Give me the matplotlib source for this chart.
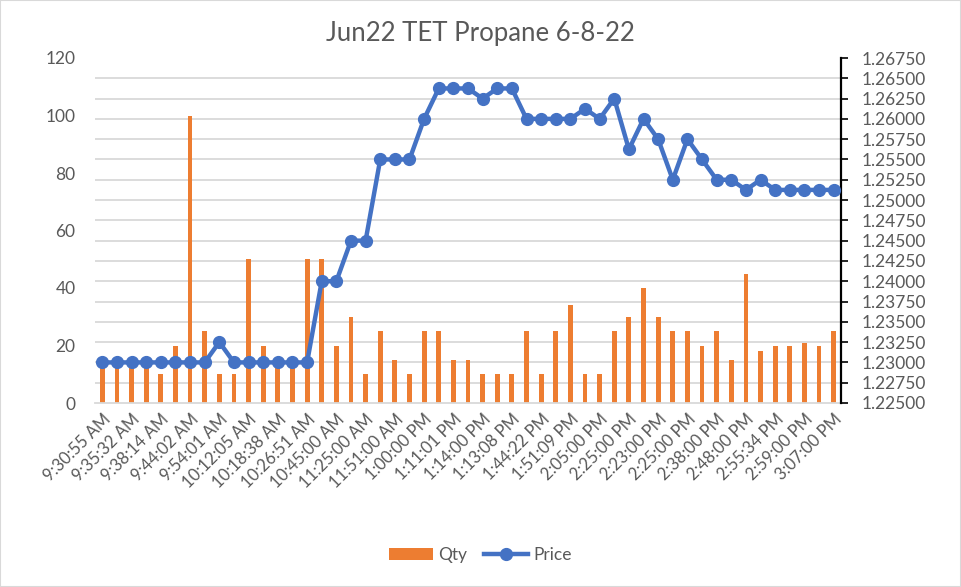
import numpy as np
import matplotlib.pyplot as plt
from matplotlib.ticker import FixedLocator, FormatStrFormatter

plt.rcParams['font.family'] = ['Lato', 'DejaVu Sans']

# every other category label is shown on the chart
time_labels = ["9:30:55 AM", "9:35:32 AM", "9:38:14 AM", "9:44:02 AM", "9:54:01 AM",
               "10:12:05 AM", "10:18:38 AM", "10:26:51 AM", "10:45:00 AM", "11:25:00 AM",
               "11:51:00 AM", "1:00:00 PM", "1:11:01 PM", "1:14:00 PM", "1:13:08 PM",
               "1:44:22 PM", "1:51:09 PM", "2:05:00 PM", "2:25:00 PM", "2:23:00 PM",
               "2:25:00 PM", "2:38:00 PM", "2:48:00 PM", "2:55:34 PM", "2:59:00 PM",
               "3:07:00 PM"]

qty = [15, 15, 15, 15, 10, 20, 100, 25, 10, 10,
       50, 20, 15, 15, 50, 50, 20, 30, 10, 25,
       15, 10, 25, 25, 15, 15, 10, 10, 10, 25,
       10, 25, 34, 10, 10, 25, 30, 40, 30, 25,
       25, 20, 25, 15, 45, 18, 20, 20, 21, 20,
       25]

price = [1.23, 1.23, 1.23, 1.23, 1.23, 1.23, 1.23, 1.23, 1.2325, 1.23,
         1.23, 1.23, 1.23, 1.23, 1.23, 1.24, 1.24, 1.245, 1.245, 1.255,
         1.255, 1.255, 1.26, 1.26375, 1.26375, 1.26375, 1.2625, 1.26375, 1.26375, 1.26,
         1.26, 1.26, 1.26, 1.26125, 1.26, 1.2625, 1.25625, 1.26, 1.2575, 1.2525,
         1.2575, 1.255, 1.2525, 1.2525, 1.25125, 1.2525, 1.25125, 1.25125, 1.25125, 1.25125,
         1.25125]

orange = "#ED7D31"
blue = "#4472C4"
grey_txt = "#595959"
grid_c = "#D9D9D9"

x = np.arange(len(qty))

fig = plt.figure(figsize=(9.61, 5.87), dpi=100)
ax = fig.add_axes([95 / 961, 1 - 403 / 587, (841 - 95) / 961, (403 - 58) / 587])
ax2 = ax.twinx()

# bars on the left axis
ax.bar(x, qty, width=0.33, color=orange, zorder=2, label="Qty")
ax.set_ylim(0, 120)
ax.set_xlim(-0.5, len(qty) - 0.5)
ax.set_yticks(range(0, 121, 20))
# gridlines follow the right axis major unit
ax.yaxis.set_minor_locator(FixedLocator(np.linspace(0, 120, 18)))
ax.grid(axis="y", which="minor", color=grid_c, linewidth=1.3, zorder=0)
ax.tick_params(axis="y", which="both", length=0, labelsize=12.5, labelcolor=grey_txt, pad=14)
ax.set_xticks(x[::2])
ax.set_xticklabels(time_labels, rotation=45, ha="right", rotation_mode="anchor",
                   fontsize=12, color=grey_txt)
ax.tick_params(axis="x", length=0, pad=6)
for s in ["top", "left", "right"]:
    ax.spines[s].set_visible(False)
ax.spines["bottom"].set_color(grid_c)
ax.spines["bottom"].set_linewidth(1.3)

# price line on the right axis
ax2.plot(x, price, color=blue, linewidth=3.2, marker="o", markersize=8.5, label="Price", zorder=3)
ax2.set_ylim(1.225, 1.2675)
ax2.set_yticks(np.arange(1.225, 1.26751, 0.0025))
ax2.yaxis.set_major_formatter(FormatStrFormatter("%.5f"))
ax2.tick_params(axis="y", length=5, width=1.2, direction="out", labelsize=12.5,
                labelcolor=grey_txt, pad=10)
for s in ["top", "left", "bottom"]:
    ax2.spines[s].set_visible(False)
ax2.spines["right"].set_linewidth(1.6)

fig.suptitle("Jun22 TET Propane 6-8-22", y=0.965, fontsize=18.5, color=grey_txt)

h1, l1 = ax.get_legend_handles_labels()
h2, l2 = ax2.get_legend_handles_labels()
fig.legend(h1 + h2, l1 + l2, loc="center", bbox_to_anchor=(0.5, 0.054), ncol=2,
           frameon=False, fontsize=12.5, labelcolor=grey_txt, handlelength=2.5,
           columnspacing=1.0, handletextpad=0.3)

# outer chart border
fig.patches.append(plt.Rectangle((0, 0), 1, 1, transform=fig.transFigure,
                                 fill=False, edgecolor=grid_c, linewidth=1.5))

fig.savefig("out.png", dpi=100)
